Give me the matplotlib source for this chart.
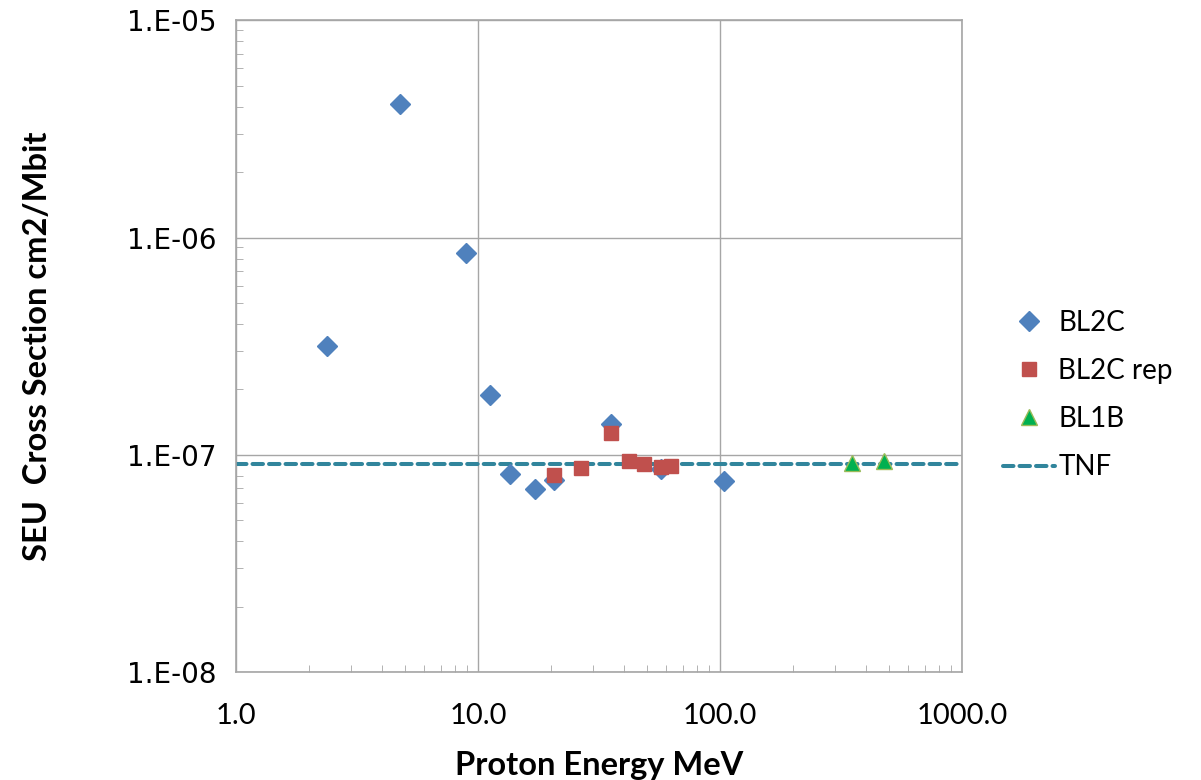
import numpy as np
import matplotlib
matplotlib.use("Agg")
import matplotlib.pyplot as plt
from matplotlib.ticker import FixedLocator, LogLocator, NullFormatter

# ===== DATA =====
bl2c_e = [2.38, 4.76, 8.92, 11.2, 13.6, 17.2, 20.6, 35.4, 57.0, 104.0]
bl2c_s = [3.16e-7, 4.10e-6, 8.47e-7, 1.88e-7, 8.15e-8, 6.95e-8, 7.64e-8, 1.38e-7, 8.59e-8, 7.57e-8]

rep_e = [20.6, 26.6, 35.4, 42.1, 48.5, 57.0, 62.8]
rep_s = [8.06e-8, 8.67e-8, 1.26e-7, 9.35e-8, 9.06e-8, 8.77e-8, 8.87e-8]

bl1b_e = [351.0, 476.0]
bl1b_s = [9.14e-8, 9.35e-8]

tnf_e = [1.0, 1000.0]
tnf_s = [9.05e-8, 9.05e-8]

x_ticks = [1.0, 10.0, 100.0, 1000.0]
x_labels = ["1.0", "10.0", "100.0", "1000.0"]
y_ticks = [1e-8, 1e-7, 1e-6, 1e-5]
y_labels = ["1.E-08", "1.E-07", "1.E-06", "1.E-05"]
# =========================================

fig = plt.figure(figsize=(12.01, 7.80), dpi=100)
ax = fig.add_axes([0.1965, 0.1385, 0.6045, 0.8355])

ax.set_xscale("log")
ax.set_yscale("log")
ax.set_xlim(1.0, 1000.0)
ax.set_ylim(1e-8, 1e-5)

grid_c = "#a6a6a6"
ax.grid(True, which="major", color=grid_c, lw=1.0)
ax.set_axisbelow(True)
for sp in ax.spines.values():
    sp.set_color(grid_c)
    sp.set_linewidth(1.2)

ax.plot(tnf_e, tnf_s, ls=(0, (2.6, 1.5)), color="#31859C", lw=2.9,
        dash_capstyle="round", label="TNF", zorder=2)
ax.plot(bl2c_e, bl2c_s, ls="none", marker="D", ms=10, color="#4F81BD",
        label="BL2C", zorder=3)
ax.plot(rep_e, rep_s, ls="none", marker="s", ms=10, color="#C0504D",
        label="BL2C rep", zorder=4)
ax.plot(bl1b_e, bl1b_s, ls="none", marker="^", ms=12, color="#00B050",
        mec="#9BBB59", mew=1, label="BL1B", zorder=5)

ax.xaxis.set_major_locator(FixedLocator(x_ticks))
ax.set_xticklabels(x_labels, fontfamily="Lato", fontsize=21)
ax.yaxis.set_major_locator(FixedLocator(y_ticks))
ax.set_yticklabels(y_labels, fontfamily="DejaVu Sans", fontsize=20)

ax.xaxis.set_minor_locator(LogLocator(base=10, subs=np.arange(2, 10)))
ax.yaxis.set_minor_locator(LogLocator(base=10, subs=np.arange(2, 10)))
ax.xaxis.set_minor_formatter(NullFormatter())
ax.yaxis.set_minor_formatter(NullFormatter())
ax.tick_params(which="major", length=0)
ax.tick_params(axis="y", which="major", pad=14)
ax.tick_params(axis="x", which="major", pad=22)
ax.tick_params(which="minor", direction="in", length=5, color=grid_c)

ax.set_xlabel("Proton Energy MeV", fontfamily="Lato", fontweight="bold",
              fontsize=23.5, labelpad=16)
ax.set_ylabel("SEU  Cross Section cm2/Mbit", fontfamily="Lato",
              fontweight="bold", fontsize=23.5, labelpad=54)

handles, labels = ax.get_legend_handles_labels()
order = [1, 2, 3, 0]
leg = ax.legend([handles[i] for i in order], [labels[i] for i in order],
                loc="center left", bbox_to_anchor=(1.056, 0.425), frameon=False,
                prop={"family": "Lato", "size": 20}, handlelength=1.9,
                labelspacing=0.8, handletextpad=0.1, borderpad=0,
                borderaxespad=0)

fig.savefig("out.png", dpi=100)
